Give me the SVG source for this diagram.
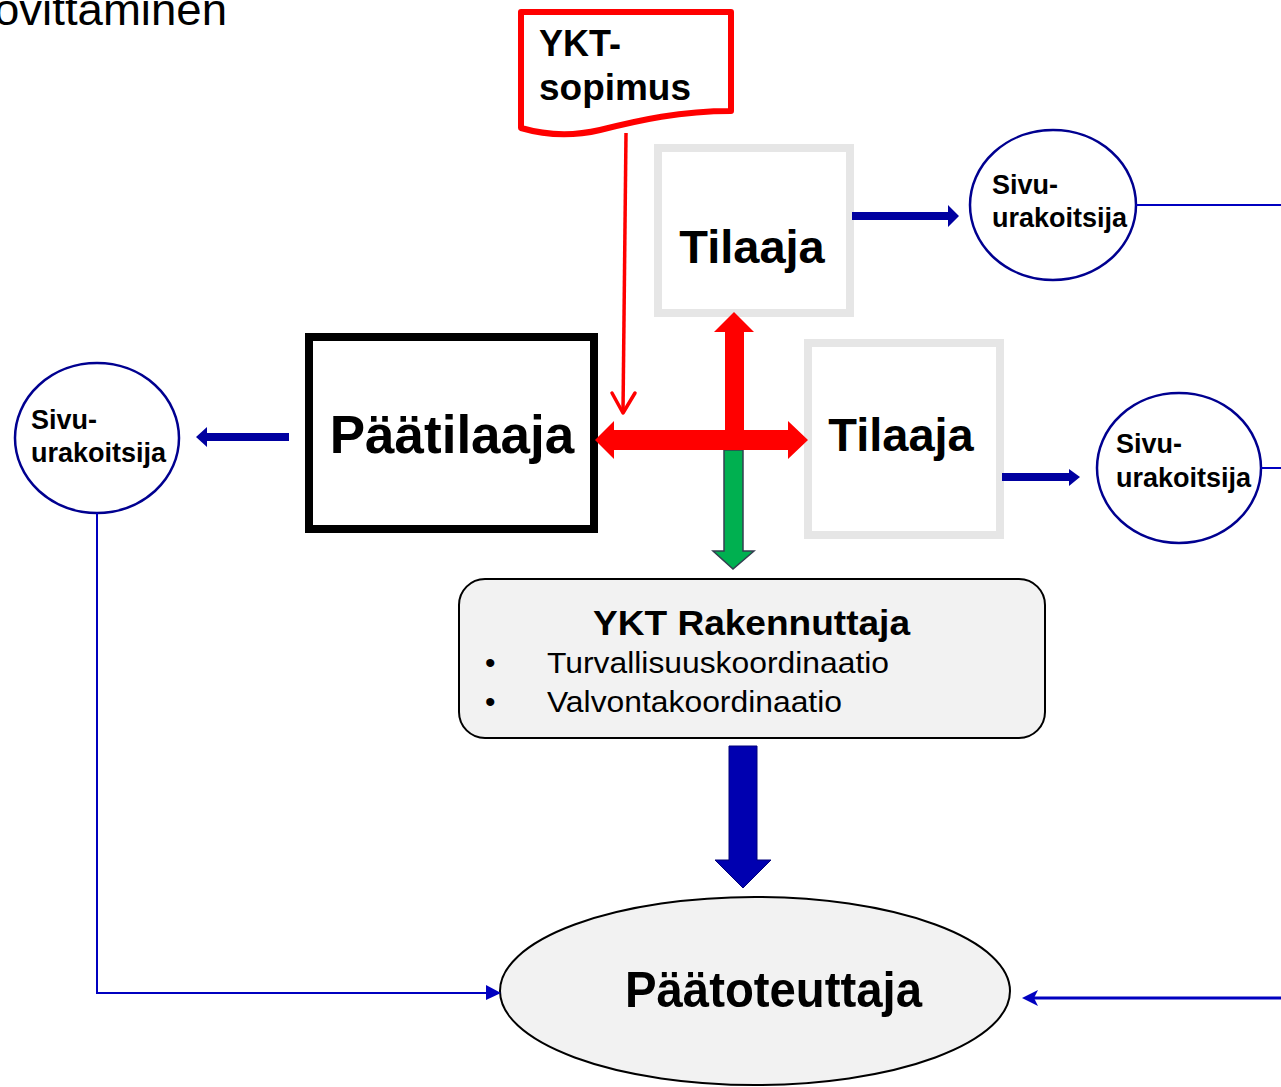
<svg xmlns="http://www.w3.org/2000/svg" width="1281" height="1087" viewBox="0 0 1281 1087">
<style>
text{font-family:"Liberation Sans",Arial,sans-serif;fill:#000}
.b{font-weight:bold}
.sivu{font-size:27px;font-weight:bold}
.circ{fill:#fff;stroke:#000090;stroke-width:2.5}
.gbox{fill:#fff;stroke:#e6e6e6;stroke-width:8}
.blue{fill:#0000a0}
.thin{fill:none;stroke:#0000c0;stroke-width:2}
</style>
<rect width="1281" height="1087" fill="#fff"/>
<text x="-6" y="25" font-size="45" textLength="233" lengthAdjust="spacingAndGlyphs">ovittaminen</text>

<g id="ykt-sopimus">
<path d="M521,12 L731,12 L731,111 C680,111 640,120 600,130 C570,137 545,135 521,128 Z" fill="#fff" stroke="#ff0000" stroke-width="6" stroke-linejoin="round"/>
<text class="b" x="539" y="56" font-size="36">YKT-</text>
<text class="b" x="539" y="100" font-size="36" textLength="152" lengthAdjust="spacingAndGlyphs">sopimus</text>
</g>

<g id="tilaaja-1">
<rect class="gbox" x="658" y="148" width="192" height="165"/>
<text class="b" x="752" y="263" font-size="47" text-anchor="middle">Tilaaja</text>
</g>

<g id="tilaaja-2">
<rect class="gbox" x="808" y="343" width="192" height="192"/>
<text class="b" x="901" y="451" font-size="47" text-anchor="middle">Tilaaja</text>
</g>

<g id="paatilaaja">
<rect x="309" y="337" width="285" height="192" fill="#fff" stroke="#000" stroke-width="8"/>
<text class="b" x="452" y="453" font-size="53" text-anchor="middle">Päätilaaja</text>
</g>

<g id="sivu-top">
<ellipse class="circ" cx="1053" cy="205" rx="83" ry="75"/>
<text class="sivu" x="992" y="194">Sivu-</text>
<text class="sivu" x="992" y="227">urakoitsija</text>
</g>

<g id="sivu-right">
<ellipse class="circ" cx="1179" cy="468" rx="82" ry="75"/>
<text class="sivu" x="1116" y="453">Sivu-</text>
<text class="sivu" x="1116" y="487">urakoitsija</text>
</g>

<g id="sivu-left">
<ellipse class="circ" cx="97" cy="438" rx="82" ry="75"/>
<text class="sivu" x="31" y="429">Sivu-</text>
<text class="sivu" x="31" y="462">urakoitsija</text>
</g>

<g id="ykt-rakennuttaja">
<rect x="459" y="579" width="586" height="159" rx="26" fill="#f2f2f2" stroke="#000" stroke-width="2"/>
<text class="b" x="593" y="635" font-size="35" textLength="317" lengthAdjust="spacingAndGlyphs">YKT Rakennuttaja</text>
<text x="485" y="673" font-size="30">•</text>
<text x="547" y="673" font-size="30" textLength="342" lengthAdjust="spacingAndGlyphs">Turvallisuuskoordinaatio</text>
<text x="485" y="712" font-size="30">•</text>
<text x="547" y="712" font-size="30" textLength="295" lengthAdjust="spacingAndGlyphs">Valvontakoordinaatio</text>
</g>

<g id="paatoteuttaja">
<ellipse cx="755" cy="991" rx="255" ry="94" fill="#f2f2f2" stroke="#000" stroke-width="2"/>
<text class="b" x="625" y="1007" font-size="50" textLength="297" lengthAdjust="spacingAndGlyphs">Päätoteuttaja</text>
</g>

<g id="connectors">
<path d="M626,133 L623,412" fill="none" stroke="#ff0000" stroke-width="3.5"/>
<polyline points="612,393 623,413 635,393" fill="none" stroke="#ff0000" stroke-width="3.5" stroke-linecap="round" stroke-linejoin="round"/>
<polygon points="724,450 743,450 743,551 754,551 733,569 713,551 724,551" fill="#00b050" stroke="#333f50" stroke-width="1.5"/>
<polygon points="595,440 614,421 614,430 788,430 788,421 808,440 788,459 788,450 614,450 614,459" fill="#ff0000"/>
<polygon points="725,431 725,332 714,332 734,312 754,332 744,332 744,431" fill="#ff0000"/>
<polygon class="blue" points="852,212 948,212 948,205 959,216 948,227 948,220 852,220"/>
<polygon class="blue" points="1002,473 1069,473 1069,469 1080,477 1069,486 1069,481 1002,481"/>
<polygon class="blue" points="289,433 207,433 207,427 196,437 207,447 207,441 289,441"/>
<line x1="1136" y1="205" x2="1281" y2="205" stroke="#0000c0" stroke-width="2"/>
<line x1="1261" y1="468" x2="1281" y2="468" stroke="#0000c0" stroke-width="2"/>
<polyline class="thin" points="97,513 97,993 488,993"/>
<polygon points="486,985 501,993 486,1000" fill="#0000c0"/>
<line x1="1281" y1="998" x2="1034" y2="998" stroke="#0000c0" stroke-width="3"/>
<polygon points="1022,998 1038,990 1034,998 1038,1006" fill="#0000c0"/>
<polygon points="729,746 757,746 757,860 771,860 743,888 715,860 729,860" fill="#0000b0" stroke="#00007a" stroke-width="1"/>
</g>
</svg>
